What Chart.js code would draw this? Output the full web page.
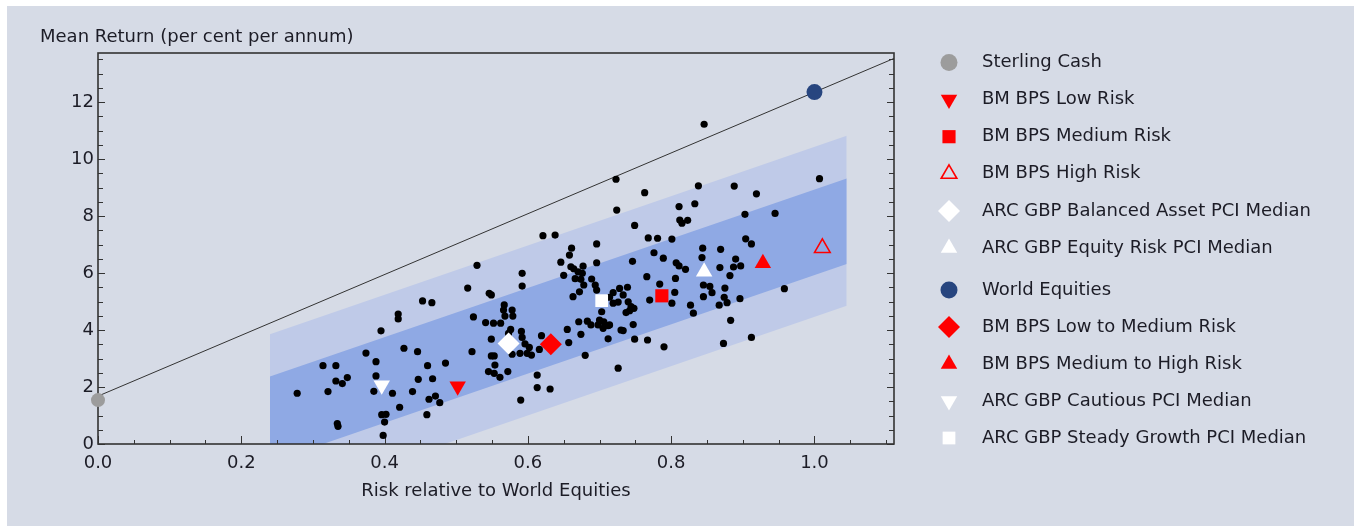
<!DOCTYPE html>
<html>
<head>
<meta charset="utf-8">
<title>Risk and return</title>
<style>
  html, body { margin: 0; padding: 0; background: #ffffff; }
  #wrap { width: 1356px; height: 527px; position: relative; }
</style>
<script src="https://cdn.jsdelivr.net/npm/chart.js@4.4.1/dist/chart.umd.min.js"></script>
</head>
<body>
<div id="wrap"><canvas id="c" width="1356" height="527"></canvas></div>
<script>
// Peer funds: risk relative to world equities and mean return (% p.a.)
const peerRisk = [
  0.278, 0.314, 0.332, 0.321, 0.332, 0.341, 0.348, 0.335, 0.334, 0.374,
  0.388, 0.395, 0.388, 0.385, 0.411, 0.396, 0.402, 0.400, 0.398, 0.421,
  0.427, 0.446, 0.419, 0.419, 0.447, 0.467, 0.460, 0.485, 0.439, 0.462,
  0.471, 0.477, 0.459, 0.522, 0.453, 0.466, 0.516, 0.529, 0.546, 0.549,
  0.524, 0.541, 0.552, 0.567, 0.566, 0.578, 0.579, 0.568, 0.562, 0.576,
  0.573, 0.549, 0.591, 0.592, 0.592, 0.592, 0.549, 0.553, 0.554, 0.545,
  0.553, 0.561, 0.572, 0.578, 0.589, 0.596, 0.602, 0.599, 0.605, 0.619,
  0.616, 0.613, 0.613, 0.631, 0.590, 0.655, 0.657, 0.674, 0.680, 0.671,
  0.683, 0.688, 0.698, 0.712, 0.705, 0.714, 0.726, 0.723, 0.763, 0.724,
  0.838, 0.888, 0.919, 0.811, 0.833, 0.812, 0.815, 0.823, 0.749, 0.621,
  0.638, 0.903, 0.945, 0.768, 0.781, 0.801, 0.904, 0.912, 0.696, 0.661,
  0.658, 0.646, 0.650, 0.660, 0.664, 0.670, 0.677, 0.676, 0.666, 0.674,
  0.678, 0.689, 0.694, 0.696, 0.672, 0.663, 0.696, 0.746, 0.776, 0.789,
  0.807, 0.811, 0.820, 0.766, 0.784, 0.806, 0.805, 0.770, 0.801, 0.827,
  0.831, 0.844, 0.843, 0.869, 0.890, 0.887, 0.897, 0.868, 0.882, 0.845,
  0.854, 0.857, 0.875, 0.845, 0.874, 0.878, 0.867, 0.896, 0.883, 0.873,
  0.912, 0.747, 0.749, 0.767, 0.790, 0.700, 0.706, 0.712, 0.730, 0.733,
  0.703, 0.714, 0.719, 0.728, 0.739, 0.733, 0.740, 0.744, 0.748, 0.737,
  0.742, 0.726, 0.719, 0.846, 1.007, 0.958
];
const peerReturn = [
  1.78, 2.75, 2.75, 1.84, 2.21, 2.12, 2.33, 0.62, 0.72, 3.19,
  2.89, 3.97, 2.39, 1.85, 1.78, 1.03, 1.04, 0.77, 0.30, 1.29,
  3.36, 3.24, 4.56, 4.39, 2.27, 2.29, 2.75, 2.84, 1.84, 1.57,
  1.68, 1.45, 1.03, 3.24, 5.02, 4.96, 5.47, 6.27, 5.29, 5.23,
  4.46, 4.26, 4.24, 4.88, 4.70, 4.70, 4.49, 4.49, 4.24, 4.02,
  3.88, 3.68, 3.95, 3.74, 5.99, 5.54, 3.09, 3.09, 2.77, 2.54,
  2.48, 2.34, 2.54, 3.15, 3.18, 3.51, 3.39, 3.18, 3.12, 3.80,
  3.32, 2.42, 1.98, 1.93, 1.54, 4.02, 3.56, 3.85, 3.11, 4.29,
  4.31, 4.18, 4.18, 3.69, 4.06, 4.18, 2.66, 9.29, 8.82, 8.21,
  9.06, 9.05, 8.78, 8.33, 8.43, 7.86, 7.75, 7.85, 7.67, 7.31,
  7.33, 8.06, 8.09, 7.23, 7.22, 7.19, 7.20, 7.02, 7.02, 6.87,
  6.63, 6.38, 5.92, 6.22, 6.15, 6.04, 6.24, 5.99, 5.80, 5.78,
  5.58, 5.79, 5.58, 5.40, 5.34, 5.17, 6.36, 6.41, 6.71, 6.52,
  6.36, 6.25, 6.13, 5.87, 5.61, 5.81, 5.32, 5.05, 4.94, 4.87,
  4.59, 6.87, 6.54, 6.83, 6.49, 6.21, 6.25, 6.19, 5.91, 5.58,
  5.53, 5.31, 5.47, 5.17, 5.15, 4.96, 4.87, 5.10, 4.34, 3.53,
  3.74, 4.19, 3.68, 3.65, 3.41, 4.35, 4.29, 4.15, 4.00, 3.98,
  4.64, 5.15, 5.31, 5.46, 5.50, 5.23, 4.99, 4.82, 4.76, 4.61,
  4.68, 4.98, 4.94, 11.22, 9.31, 5.45
];

// Named portfolios and benchmarks
const seriesNames = [
  'Sterling Cash',
  'BM BPS Low Risk',
  'BM BPS Medium Risk',
  'BM BPS High Risk',
  'ARC GBP Balanced Asset PCI Median',
  'ARC GBP Equity Risk PCI Median',
  'World Equities',
  'BM BPS Low to Medium Risk',
  'BM BPS Medium to High Risk',
  'ARC GBP Cautious PCI Median',
  'ARC GBP Steady Growth PCI Median'
];
const seriesRisk   = [0.000, 0.502, 0.787, 1.011, 0.573, 0.846, 1.000, 0.632, 0.928, 0.396, 0.703];
const seriesReturn = [1.54, 2.03, 5.20, 6.88, 3.53, 6.04, 12.35, 3.50, 6.34, 2.06, 5.03];

// Line from cash through world equities
const marketLineRisk = [0, 1.111];
const marketLineReturn = [1.68, 13.53];

// Shaded return bands
const bandRisk = [0.24, 1.045];
const outerBandTop = [3.85, 10.82];
const innerBandTop = [2.37, 9.32];
const innerBandBottom = [-0.64, 6.32];
const outerBandBottom = [-2.11, 4.85];

// Axis tick labels
const xTickValues = [0, 0.2, 0.4, 0.6, 0.8, 1.0];
const yTickValues = [0, 2, 4, 6, 8, 10, 12];

// Marker styles for the named series
const RED = '#ff0000', WHITE = '#ffffff';
const seriesStyle = [
  { pointStyle: 'circle',   radius: 7,   fill: '#9c9c9c', stroke: '#9c9c9c', borderWidth: 0, rotation: 0 },
  { pointStyle: 'triangle', radius: 9.5, fill: RED,   stroke: RED,   borderWidth: 0, rotation: 180 },
  { pointStyle: 'rect',     radius: 9.3, fill: RED,   stroke: RED,   borderWidth: 0, rotation: 0 },
  { pointStyle: 'triangle', radius: 9,   fill: 'rgba(0,0,0,0)', stroke: RED, borderWidth: 1.6, rotation: 0 },
  { pointStyle: 'rectRot',  radius: 11,  fill: WHITE, stroke: WHITE, borderWidth: 0, rotation: 0 },
  { pointStyle: 'triangle', radius: 9.5, fill: WHITE, stroke: WHITE, borderWidth: 0, rotation: 0 },
  { pointStyle: 'circle',   radius: 8,   fill: '#27457f', stroke: '#27457f', borderWidth: 0, rotation: 0 },
  { pointStyle: 'rectRot',  radius: 11,  fill: RED,   stroke: RED,   borderWidth: 0, rotation: 0 },
  { pointStyle: 'triangle', radius: 9.5, fill: RED,   stroke: RED,   borderWidth: 0, rotation: 0 },
  { pointStyle: 'triangle', radius: 9.5, fill: WHITE, stroke: WHITE, borderWidth: 0, rotation: 180 },
  { pointStyle: 'rect',     radius: 9,   fill: WHITE, stroke: WHITE, borderWidth: 0, rotation: 0 }
];

const FONT = '"DejaVu Sans", Verdana, sans-serif';
const TEXT = '#1c1c26';
const AXIS = '#333333';
const PANEL = '#d6dbe6';

const pairs = (xs, ys) => xs.map((x, i) => ({ x: x, y: ys[i] }));

const datasets = [
  { type: 'line', label: 'outerTop', data: pairs(bandRisk, outerBandTop),
    borderWidth: 0, pointRadius: 0, fill: { target: 1 }, backgroundColor: '#bfcae8', order: 20 },
  { type: 'line', label: 'outerBottom', data: pairs(bandRisk, outerBandBottom),
    borderWidth: 0, pointRadius: 0, fill: false, order: 19 },
  { type: 'line', label: 'innerTop', data: pairs(bandRisk, innerBandTop),
    borderWidth: 0, pointRadius: 0, fill: { target: 3 }, backgroundColor: '#8fa9e4', order: 18 },
  { type: 'line', label: 'innerBottom', data: pairs(bandRisk, innerBandBottom),
    borderWidth: 0, pointRadius: 0, fill: false, order: 17 },
  { type: 'line', label: 'marketLine', data: pairs(marketLineRisk, marketLineReturn),
    borderColor: '#333333', borderWidth: 1, pointRadius: 0, fill: false, order: 16 },
  { type: 'scatter', label: 'peers', data: pairs(peerRisk, peerReturn),
    pointRadius: 3.6, pointBackgroundColor: '#000000', pointBorderWidth: 0, clip: false, order: 15 }
];
seriesNames.forEach((name, i) => {
  const s = seriesStyle[i];
  datasets.push({
    type: 'scatter', label: name, data: [{ x: seriesRisk[i], y: seriesReturn[i] }],
    pointStyle: s.pointStyle, pointRadius: s.radius, pointRotation: s.rotation,
    pointBackgroundColor: s.fill, pointBorderColor: s.stroke, pointBorderWidth: s.borderWidth,
    clip: false, order: 1
  });
});

// Grey-blue panel behind everything, inset from the white page edge
const panel = {
  id: 'panel',
  beforeDraw(chart) {
    const ctx = chart.ctx;
    ctx.save();
    ctx.fillStyle = PANEL;
    ctx.fillRect(7, 6, chart.width - 9, chart.height - 7);
    ctx.restore();
  }
};

// Plot frame with inward tick marks, drawn just after the market line
const axisFrame = {
  id: 'axisFrame',
  afterDatasetDraw(chart, args) {
    if (args.index !== 4) return;
    const { ctx, chartArea: a, scales: { x, y } } = chart;
    ctx.save();
    ctx.strokeStyle = AXIS;
    ctx.lineWidth = 1;
    ctx.beginPath();
    for (let i = 0; i * 0.05 <= x.max + 1e-9; i++) {
      const px = Math.round(x.getPixelForValue(i * 0.05)) + 0.5;
      const len = (i % 4 === 0) ? 8 : 4;
      ctx.moveTo(px, a.bottom); ctx.lineTo(px, a.bottom - len);
    }
    for (let i = 0; i * 0.5 <= y.max + 1e-9; i++) {
      const py = Math.round(y.getPixelForValue(i * 0.5)) + 0.5;
      const len = (i % 4 === 0) ? 7 : 5;
      ctx.moveTo(a.left, py); ctx.lineTo(a.left + len, py);
      ctx.moveTo(a.right, py); ctx.lineTo(a.right - len, py);
    }
    ctx.stroke();
    ctx.lineWidth = 1.6;
    ctx.strokeRect(a.left, a.top, a.right - a.left, a.bottom - a.top);
    ctx.restore();
  }
};

function drawMarker(ctx, s, x, y) {
  ctx.fillStyle = s.fill;
  ctx.strokeStyle = s.stroke;
  ctx.lineWidth = s.borderWidth;
  if (Chart.helpers && Chart.helpers.drawPoint) {
    Chart.helpers.drawPoint(ctx, { pointStyle: s.pointStyle, radius: s.radius, rotation: s.rotation, borderWidth: s.borderWidth }, x, y);
  }
}

// Legend at the right, plus the vertical-axis caption above the plot
const sideLegend = {
  id: 'sideLegend',
  afterDraw(chart) {
    const ctx = chart.ctx;
    ctx.save();
    ctx.font = '18px ' + FONT;
    ctx.fillStyle = TEXT;
    ctx.textBaseline = 'middle';
    ctx.textAlign = 'left';
    ctx.fillText('Mean Return (per cent per annum)', 40, 37);
    seriesNames.forEach((name, i) => {
      const rowY = i < 6 ? 62.5 + i * 37.1 : 290 + (i - 6) * 37;
      const s = Object.assign({}, seriesStyle[i]);
      if (s.pointStyle === 'circle') s.radius = 8.5;
      drawMarker(ctx, s, 949, rowY);
      ctx.fillStyle = TEXT;
      ctx.font = '18px ' + FONT;
      ctx.textBaseline = 'middle';
      ctx.fillText(name, 982, rowY);
    });
    ctx.restore();
  }
};

Chart.defaults.font.family = FONT;
Chart.defaults.color = TEXT;

new Chart(document.getElementById('c'), {
  type: 'scatter',
  data: { datasets: datasets },
  plugins: [panel, axisFrame, sideLegend],
  options: {
    responsive: false,
    animation: false,
    events: [],
    layout: { padding: { top: 53, right: 462, left: 0, bottom: 0 } },
    plugins: { legend: { display: false }, tooltip: { enabled: false }, title: { display: false } },
    elements: { line: { tension: 0 } },
    scales: {
      x: {
        type: 'linear', min: 0, max: 1.111,
        grid: { display: false, drawTicks: false },
        border: { display: false },
        afterBuildTicks: (s) => { s.ticks = xTickValues.map(v => ({ value: v })); },
        afterFit: (s) => { s.height = 83; },
        ticks: { font: { size: 18 }, color: TEXT, padding: 9, maxRotation: 0, autoSkip: false,
                 callback: (v) => Number(v).toFixed(1) },
        title: { display: true, text: 'Risk relative to World Equities', font: { size: 18 }, color: TEXT,
                 padding: { top: 25, bottom: 25 } }
      },
      y: {
        type: 'linear', min: 0, max: 13.72,
        grid: { display: false, drawTicks: false },
        border: { display: false },
        afterBuildTicks: (s) => { s.ticks = yTickValues.map(v => ({ value: v })); },
        afterFit: (s) => { s.width = 98; },
        ticks: { font: { size: 18 }, color: TEXT, padding: 4, callback: (v) => String(v) }
      }
    }
  }
});
</script>
</body>
</html>
